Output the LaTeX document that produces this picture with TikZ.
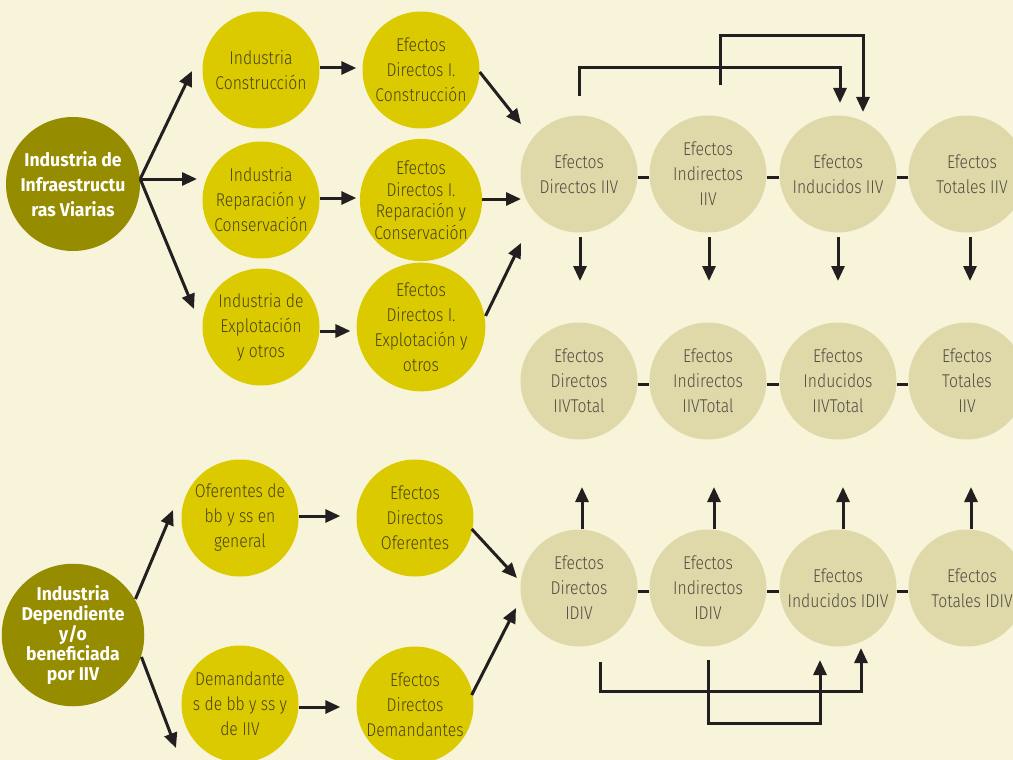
\documentclass[tikz,border=0pt]{standalone}
\usepackage{fontspec}
\setmainfont{Fira Sans}
\newfontfamily\lt{Fira Sans Light}[FakeStretch=0.85]
\newfontfamily\hv{Fira Sans}[FakeStretch=0.95]
\usetikzlibrary{arrows.meta}
\definecolor{bg}{HTML}{F8F4DA}
\definecolor{olivec}{HTML}{968C00}
\definecolor{yel}{HTML}{DCCA00}
\definecolor{beige}{HTML}{DFD8A9}
\definecolor{ytext}{HTML}{47421A}
\definecolor{btext}{HTML}{4E4C42}
\definecolor{ink}{HTML}{231F20}
\begin{document}
\begin{tikzpicture}[x=1pt,y=-1pt,
  darkbub/.style={circle, fill=olivec, minimum size=134pt, inner sep=0pt, align=center, text=white, font=\hv\bfseries\fontsize{18.5}{25}\selectfont},
  ybub/.style={circle, fill=yel, minimum size=117pt, inner sep=0pt, align=center, text=ytext, font=\lt\fontsize{18.5}{25}\selectfont},
  bbub/.style={circle, fill=beige, minimum size=117pt, inner sep=0pt, align=center, text=btext, font=\lt\fontsize{18.5}{25}\selectfont},
  arr/.style={draw=ink, line width=3pt, -{Triangle[length=15pt,width=13pt]}},
  ln/.style={draw=ink, line width=3pt}]
\useasboundingbox (0,0) rectangle (1013,760);
\fill[bg] (0,0) rectangle (1013,760);
\clip (0,0) rectangle (1013,760);

% upper left group
\node[darkbub] (big1) at (73,184) {Industria de\\Infraestructu\\ras Viarias};
\node[ybub] (ic) at (261,70) {Industria\\Construcción};
\node[ybub] (ir) at (261,200) {Industria\\Reparación y\\Conservación};
\node[ybub] (ie) at (261,327) {Industria de\\Explotación\\y otros};
\node[ybub] (ec) at (421,70) {Efectos\\Directos I.\\Construcción};
\node[ybub, font=\lt\fontsize{18.5}{21.5}\selectfont] (er) at (421,200) {Efectos\\Directos I.\\Reparación y\\Conservación};
\node[ybub] (ee) at (421,327) {Efectos\\Directos I.\\Explotación y\\otros};

% lower left group
\node[darkbub, font=\hv\bfseries\fontsize{18.5}{20}\selectfont] (big2) at (73,635) {Industria\\Dependiente\\y/o\\beneficiada\\por IIV};
\node[ybub] (of) at (240,518) {Oferentes de\\bb y ss en\\general};
\node[ybub] (de) at (240,704) {Demandante\\s de bb y ss y\\de IIV};
\node[ybub] (eo) at (415,518) {Efectos\\Directos\\Oferentes};
\node[ybub] (ed) at (415,705) {Efectos\\Directos\\Demandantes};

% effects grid
\node[bbub] (d1) at (579,174) {Efectos\\Directos IIV};
\node[bbub] (n1) at (708,174) {Efectos\\Indirectos\\IIV};
\node[bbub] (u1) at (838,174) {Efectos\\Inducidos IIV};
\node[bbub] (t1) at (967,174) {\hspace*{10pt}Efectos\\\hspace*{10pt}Totales IIV};
\node[bbub] (d2) at (579,381) {Efectos\\Directos\\IIVTotal};
\node[bbub] (n2) at (708,381) {Efectos\\Indirectos\\IIVTotal};
\node[bbub] (u2) at (838,381) {Efectos\\Inducidos\\IIVTotal};
\node[bbub] (t2) at (967,381) {Efectos\\Totales\\IIV};
\node[bbub] (d3) at (579,588) {Efectos\\Directos\\IDIV};
\node[bbub] (n3) at (708,588) {Efectos\\Indirectos\\IDIV};
\node[bbub] (u3) at (838,588) {Efectos\\Inducidos IDIV};
\node[bbub] (t3) at (967,588) {\hspace*{10pt}Efectos\\\hspace*{10pt}Totales IDIV};

% free arrow ends
\coordinate (a1) at (192,71);
\coordinate (a2) at (197,179);
\coordinate (a3) at (194,309);
\coordinate (b1) at (521,124);
\coordinate (b2) at (521,199);
\coordinate (b3) at (521,243);
\coordinate (c1) at (173,510);
\coordinate (c2) at (176,748);
\coordinate (e1) at (517,578);
\coordinate (e2) at (516,608);

\draw[arr] ([yshift=5pt]big1.east) -- (a1);
\draw[arr] ([yshift=5pt]big1.east) -- (a2);
\draw[arr] ([yshift=5pt]big1.east) -- (a3);
\draw[arr, shorten >=6pt] ([yshift=2pt]ic.east) -- ([yshift=2pt]ec.west);
\draw[arr, shorten >=6pt] ([yshift=2pt]ir.east) -- ([yshift=2pt]ir.east -| ec.west);
\draw[arr, shorten >=6pt] ([yshift=-4pt]ie.east) -- ([yshift=-4pt]ie.east -| ee.west);
\draw[arr] (ec.east |- 0,72) -- (b1);
\draw[arr] (er.east |- 0,199) -- (b2);
\draw[arr] (ee.east |- 0,316) -- (b3);

\draw[arr] (big2.east |- 0,599) ++(-9,0) -- (c1);
\draw[arr] (big2.east |- 0,657) ++(-3,0) -- (c2);
\draw[arr, shorten >=16pt] ([yshift=2pt]of.east) -- ([yshift=2pt]eo.west);
\draw[arr, shorten >=16pt] ([yshift=-3pt]de.east) -- ([yshift=-3pt]de.east -| ed.west);
\draw[arr] (eo.east |- 0,529) ++(-2,0) -- (e1);
\draw[arr] (ed.east |- 0,695) ++(-2,0) -- (e2);

% horizontal ties
\foreach \r in {1,2,3}{
  \draw[ln] ([yshift=-3pt]d\r.east) -- ([yshift=-3pt]n\r.west);
  \draw[ln] ([yshift=-3pt]n\r.east) -- ([yshift=-3pt]u\r.west);
  \draw[ln] ([yshift=-3pt]u\r.east) -- ([yshift=-3pt]t\r.west);
}

% vertical arrows rows 1 -> 2
\coordinate (v1) at (580,281);
\coordinate (v2) at (709,281);
\coordinate (v3) at (838,281);
\coordinate (v4) at (970,281);
\draw[arr] (v1 |- 0,237) -- (v1);
\draw[arr] (v2 |- 0,237) -- (v2);
\draw[arr] (v3 |- 0,237) -- (v3);
\draw[arr] (v4 |- 0,237) -- (v4);
% vertical arrows rows 3 -> 2
\coordinate (w1) at (582,487);
\coordinate (w2) at (714,487);
\coordinate (w3) at (843,487);
\coordinate (w4) at (971,487);
\draw[arr] (w1 |- d3.north) -- (w1);
\draw[arr] (w2 |- n3.north) -- (w2);
\draw[arr] (w3 |- u3.north) -- (w3);
\draw[arr] (w4 |- t3.north) -- (w4);

% top feedback connectors
\coordinate (f1s) at (579,96);
\coordinate (f1e) at (840,103);
\coordinate (f2s) at (720,85);
\coordinate (f2e) at (863,112);
\draw[arr] (f1s) -- ++(0,-28) -| (f1e);
\draw[arr] (f2s) -- ++(0,-49) -| (f2e);

% bottom feedback connectors
\coordinate (g1s) at (600,662);
\coordinate (g1e) at (861,648);
\coordinate (g2s) at (708,660);
\coordinate (g2e) at (820,660);
\draw[arr] (g1s) -- ++(0,29) -| (g1e);
\draw[arr] (g2s) -- ++(0,63) -| (g2e);
\end{tikzpicture}
\end{document}
